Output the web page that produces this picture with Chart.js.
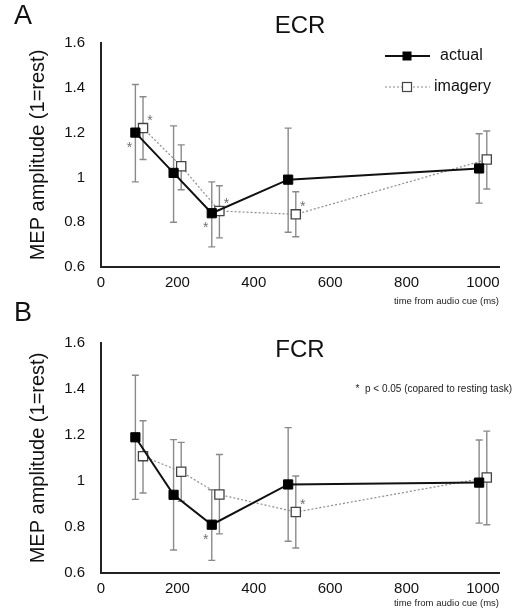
<!DOCTYPE html>
<html>
<head>
<meta charset="utf-8">
<script src="https://cdn.jsdelivr.net/npm/chart.js@4.4.1/dist/chart.umd.min.js"></script>
<style>
  html, body { margin: 0; padding: 0; background: #fff; }
  #wrap { position: relative; width: 517px; height: 609px; }
  .panel { position: absolute; left: 0; width: 517px; }
  #panelA { top: 0; height: 307px; }
  #panelB { top: 300px; height: 309px; }
</style>
</head>
<body>
<div id="wrap">
  <div class="panel" id="panelA"><canvas id="chartA"></canvas></div>
  <div class="panel" id="panelB"><canvas id="chartB"></canvas></div>
</div>
<script>
// time points (ms), imagery shifted a bit so the bars don't overlap
const timesActual = [90, 190, 290, 490, 990];
const timesImagery = [110, 210, 310, 510, 1010];
const xTicks = [0, 200, 400, 600, 800, 1000];
const yTicks = [0.6, 0.8, 1, 1.2, 1.4, 1.6];

// ECR (panel A)
const ecrActual = [1.20, 1.02, 0.84, 0.99, 1.04];
const ecrActualLow = [0.98, 0.80, 0.69, 0.755, 0.885];
const ecrActualHigh = [1.415, 1.23, 0.98, 1.22, 1.195];
const ecrImagery = [1.22, 1.05, 0.85, 0.835, 1.08];
const ecrImageryLow = [1.08, 0.945, 0.73, 0.735, 0.948];
const ecrImageryHigh = [1.36, 1.145, 0.963, 0.936, 1.207];
const ecrSigActual = [1, 0, 1, 0, 0];
const ecrSigImagery = [1, 0, 1, 1, 0];

// FCR (panel B)
const fcrActual = [1.19, 0.94, 0.81, 0.985, 0.993];
const fcrActualLow = [0.92, 0.70, 0.655, 0.738, 0.817];
const fcrActualHigh = [1.46, 1.18, 0.962, 1.232, 1.178];
const fcrImagery = [1.108, 1.04, 0.941, 0.865, 1.015];
const fcrImageryLow = [0.948, 0.912, 0.77, 0.709, 0.81];
const fcrImageryHigh = [1.262, 1.168, 1.115, 1.022, 1.217];
const fcrSigActual = [0, 0, 1, 0, 0];
const fcrSigImagery = [0, 0, 0, 1, 0];

Chart.defaults.font.family = "'Liberation Sans', Arial, sans-serif";
Chart.defaults.color = '#111';

const ERR_COLOR = '#8a8a8a';

function toPoints(times, values) {
    return times.map((t, i) => ({ x: t, y: values[i] }));
}

/**
 * Error bars, drawn under the lines and markers
 */
function errorBarPlugin(bars) {
    return {
        id: 'errorBars',
        beforeDatasetsDraw(chart) {
            const { ctx, scales: { x, y } } = chart;
            ctx.save();
            ctx.strokeStyle = ERR_COLOR;
            ctx.lineWidth = 1.4;
            bars.forEach(b => {
                b.times.forEach((t, i) => {
                    const px = x.getPixelForValue(t);
                    const top = y.getPixelForValue(b.high[i]);
                    const bot = y.getPixelForValue(b.low[i]);
                    ctx.beginPath();
                    ctx.moveTo(px, top); ctx.lineTo(px, bot);
                    ctx.moveTo(px - 3.5, top); ctx.lineTo(px + 3.5, top);
                    ctx.moveTo(px - 3.5, bot); ctx.lineTo(px + 3.5, bot);
                    ctx.stroke();
                });
            });
            ctx.restore();
        }
    };
}

/**
 * Panel letter, muscle title, legend, footnote and significance stars
 */
function extrasPlugin(cfg) {
    return {
        id: 'extras',
        afterDraw(chart) {
            const { ctx, chartArea, scales: { x, y } } = chart;
            const mid = (chartArea.left + chartArea.right) / 2;
            ctx.save();
            ctx.fillStyle = '#111';
            ctx.textBaseline = 'middle';

            ctx.font = "27px 'Liberation Sans', Arial, sans-serif";
            ctx.textAlign = 'left';
            ctx.fillText(cfg.letter, 14, cfg.letterY);

            ctx.font = "24px 'Liberation Sans', Arial, sans-serif";
            ctx.textAlign = 'center';
            ctx.fillText(cfg.title, mid, cfg.titleY);

            if (cfg.legend) {
                // actual
                ctx.strokeStyle = '#111';
                ctx.lineWidth = 2;
                ctx.beginPath(); ctx.moveTo(385, 56); ctx.lineTo(430, 56); ctx.stroke();
                ctx.fillStyle = '#000';
                ctx.fillRect(402.5, 51.5, 9, 9);
                // imagery
                ctx.strokeStyle = '#8c8c8c';
                ctx.lineWidth = 1.2;
                ctx.setLineDash([2, 2]);
                ctx.beginPath(); ctx.moveTo(385, 87); ctx.lineTo(430, 87); ctx.stroke();
                ctx.setLineDash([]);
                ctx.fillStyle = '#fff';
                ctx.strokeStyle = '#444';
                ctx.fillRect(402.5, 82.5, 9, 9);
                ctx.strokeRect(402.5, 82.5, 9, 9);

                ctx.fillStyle = '#111';
                ctx.font = "16px 'Liberation Sans', Arial, sans-serif";
                ctx.textAlign = 'left';
                ctx.fillText('actual', 440, 56);
                ctx.fillText('imagery', 434, 87);
            }

            if (cfg.footnote) {
                ctx.font = "10px 'Liberation Sans', Arial, sans-serif";
                ctx.textAlign = 'right';
                ctx.fillStyle = '#222';
                ctx.fillText(cfg.footnote, 512, cfg.footnoteY);
            }

            // stars: actual below-left, imagery above-right
            ctx.fillStyle = '#6f6f6f';
            ctx.font = "14px 'Liberation Sans', Arial, sans-serif";
            ctx.textAlign = 'center';
            ctx.textBaseline = 'alphabetic';
            cfg.sigActual.forEach((s, i) => {
                if (!s) return;
                const px = x.getPixelForValue(timesActual[i]);
                const py = y.getPixelForValue(cfg.actual[i]);
                ctx.fillText('*', px - 6, py + 11 + 8);
            });
            cfg.sigImagery.forEach((s, i) => {
                if (!s) return;
                const px = x.getPixelForValue(timesImagery[i]);
                const py = y.getPixelForValue(cfg.imagery[i]);
                ctx.fillText('*', px + 7, py - 11 + 8);
            });
            ctx.restore();
        }
    };
}

function createPanel(canvasId, cfg) {
    const ctx = document.getElementById(canvasId);
    return new Chart(ctx, {
        type: 'line',
        data: {
            datasets: [{
                label: 'actual',
                data: toPoints(timesActual, cfg.actual),
                borderColor: '#111',
                borderWidth: 2,
                pointStyle: 'rect',
                pointRadius: 6.5,
                pointBackgroundColor: '#000',
                pointBorderColor: '#000',
                pointBorderWidth: 1
            }, {
                label: 'imagery',
                data: toPoints(timesImagery, cfg.imagery),
                borderColor: '#8c8c8c',
                borderWidth: 1.2,
                borderDash: [2, 2],
                pointStyle: 'rect',
                pointRadius: 6.5,
                pointBackgroundColor: '#fff',
                pointBorderColor: '#444',
                pointBorderWidth: 1.3
            }]
        },
        options: {
            responsive: true,
            maintainAspectRatio: false,
            animation: false,
            events: [],
            layout: { padding: { top: 43, left: 0, right: 18, bottom: 0 } },
            plugins: {
                legend: { display: false },
                tooltip: { enabled: false }
            },
            scales: {
                x: {
                    type: 'linear',
                    min: 0,
                    max: 1042,
                    afterBuildTicks: s => { s.ticks = xTicks.map(v => ({ value: v })); },
                    afterFit: s => { s.height = cfg.xHeight; },
                    grid: { display: false, drawTicks: false },
                    border: { display: true, color: '#222', width: 2 },
                    ticks: {
                        font: { size: 15 },
                        color: '#111',
                        padding: 7,
                        maxRotation: 0,
                        callback: v => String(v)
                    },
                    title: {
                        display: true,
                        text: 'time from audio cue (ms)',
                        align: 'end',
                        color: '#222',
                        font: { size: 9.5 },
                        padding: 0
                    }
                },
                y: {
                    min: 0.6,
                    max: 1.6,
                    afterBuildTicks: s => { s.ticks = yTicks.map(v => ({ value: v })); },
                    afterFit: s => { s.width = 101; },
                    grid: { display: false, drawTicks: false },
                    border: { display: true, color: '#222', width: 2 },
                    ticks: {
                        font: { size: 15 },
                        color: '#111',
                        padding: 16,
                        callback: v => String(+v.toFixed(1))
                    },
                    title: {
                        display: true,
                        text: 'MEP amplitude (1=rest)',
                        color: '#111',
                        font: { size: 20 },
                        padding: { top: 26, bottom: 0 }
                    }
                }
            }
        },
        plugins: [
            errorBarPlugin([
                { times: timesActual, low: cfg.actualLow, high: cfg.actualHigh },
                { times: timesImagery, low: cfg.imageryLow, high: cfg.imageryHigh }
            ]),
            extrasPlugin(cfg)
        ]
    });
}

createPanel('chartA', {
    letter: 'A', letterY: 17, title: 'ECR', titleY: 26, legend: true,
    xHeight: 40,
    actual: ecrActual, actualLow: ecrActualLow, actualHigh: ecrActualHigh,
    imagery: ecrImagery, imageryLow: ecrImageryLow, imageryHigh: ecrImageryHigh,
    sigActual: ecrSigActual, sigImagery: ecrSigImagery
});

createPanel('chartB', {
    letter: 'B', letterY: 14, title: 'FCR', titleY: 50, legend: false,
    footnote: '*  p < 0.05 (copared to resting task)', footnoteY: 89,
    xHeight: 36,
    actual: fcrActual, actualLow: fcrActualLow, actualHigh: fcrActualHigh,
    imagery: fcrImagery, imageryLow: fcrImageryLow, imageryHigh: fcrImageryHigh,
    sigActual: fcrSigActual, sigImagery: fcrSigImagery
});
</script>
</body>
</html>
